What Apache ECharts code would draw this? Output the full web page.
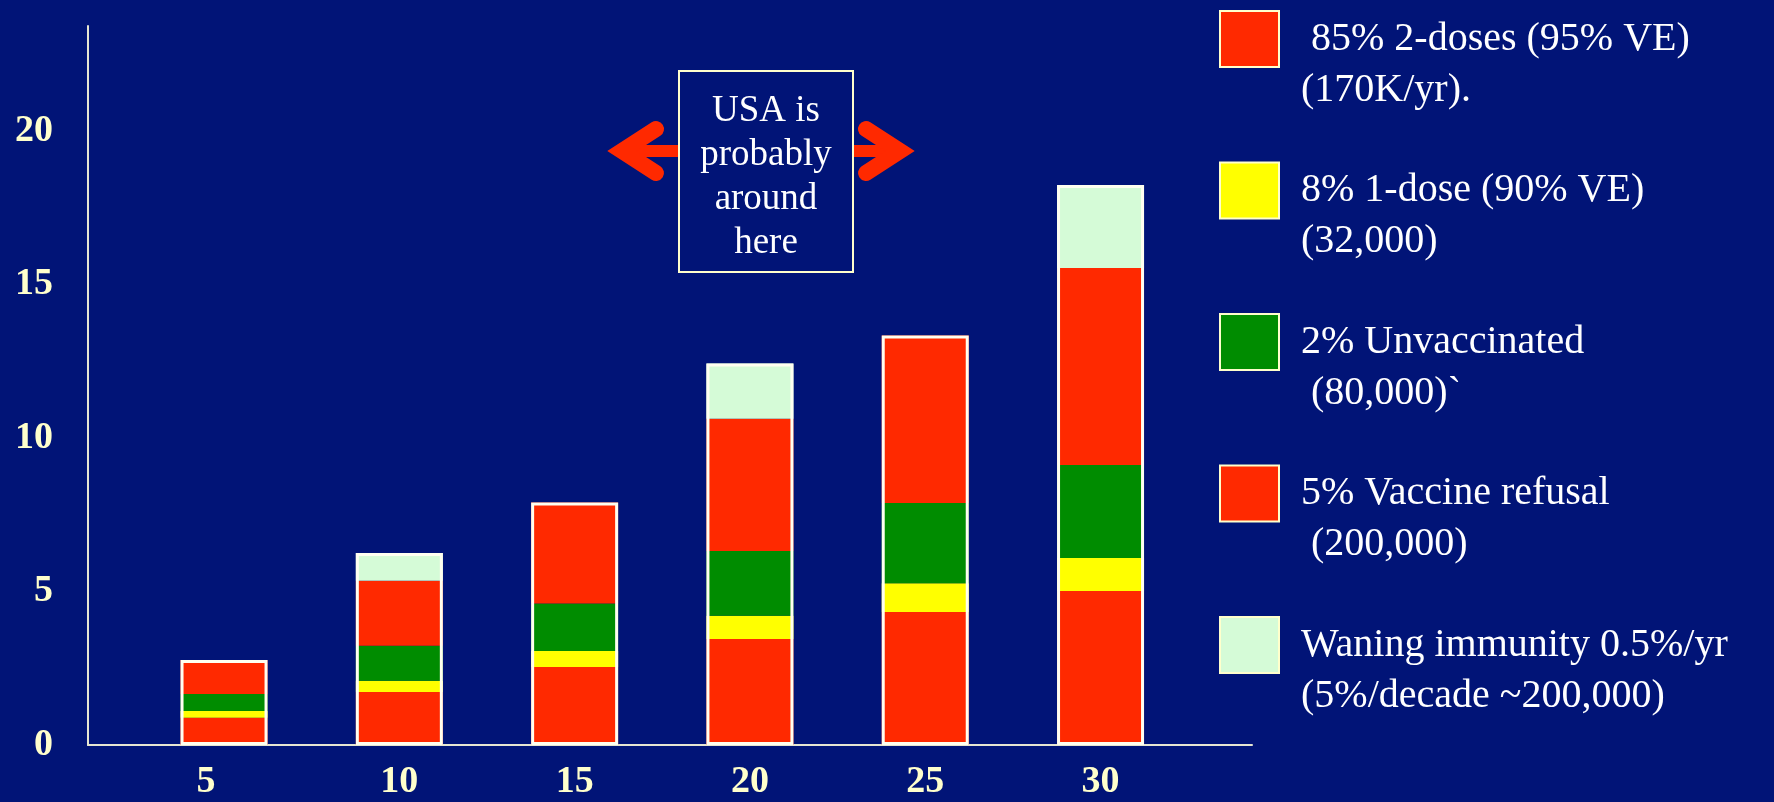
<!DOCTYPE html>
<html>
<head>
<meta charset="utf-8">
<title>Measles susceptibility build-up by year</title>
<script src="https://cdn.jsdelivr.net/npm/echarts@6/dist/echarts.min.js"></script>
<style>
  html, body { margin: 0; padding: 0; background: #011477; }
  #chart { width: 1774px; height: 802px; }
</style>
</head>
<body>
<div id="chart"></div>
<script>
// Years after programme start (x axis)
const years = [5, 10, 15, 20, 25, 30];
const yTicks = [0, 5, 10, 15, 20];

// Stacked components, bottom to top
const twoDoses     = [0.89, 1.73, 2.54, 3.45, 4.33, 5.02];
const oneDose      = [0.22, 0.36, 0.52, 0.76, 0.94, 1.07];
const unvaccinated = [0.55, 1.14, 1.55, 2.11, 2.61, 3.03];
const refusal      = [1.11, 2.12, 3.29, 4.31, 5.46, 6.42];
const waning       = [0, 0.90, 0, 1.80, 0, 2.70];

const seriesNames = [
  ' 85% 2-doses (95% VE)\n(170K/yr).',
  '8% 1-dose (90% VE)\n(32,000)',
  '2% Unvaccinated\n (80,000)`',
  '5% Vaccine refusal\n (200,000)',
  'Waning immunity 0.5%/yr\n(5%/decade ~200,000)'
];
const seriesValues = [twoDoses, oneDose, unvaccinated, refusal, waning];
const seriesColors = ['#FF2900', '#FFFF00', '#008C00', '#FF2900', '#D5FBD7'];

const NAVY = '#011477';
const CREAM = '#FFFFCC';
const SERIF = '"Liberation Serif", "Times New Roman", serif';

const totals = years.map((_, i) => seriesValues.reduce((s, arr) => s + arr[i], 0));

// Value first so the stack is accumulated on the vertical dimension
const stackSeries = seriesValues.map((vals, k) => ({
  name: seriesNames[k],
  type: 'bar',
  stack: 'total',
  barWidth: 87,
  dimensions: ['share', 'year'],
  encode: { x: 'year', y: 'share' },
  itemStyle: { color: seriesColors[k] },
  data: years.map((y, i) => [vals[i], y])
}));

// Cream frame drawn around every full stack
const frameSeries = {
  name: 'frame',
  type: 'bar',
  barWidth: 87,
  barGap: '-100%',
  dimensions: ['share', 'year'],
  encode: { x: 'year', y: 'share' },
  itemStyle: { color: 'rgba(0,0,0,0)', borderColor: '#FFFFF0', borderWidth: 3 },
  data: years.map((y, i) => [totals[i], y])
};

const chart = echarts.init(document.getElementById('chart'));
chart.setOption({
  animation: false,
  backgroundColor: NAVY,
  grid: { left: 88, right: 522, top: 26, bottom: 57, containLabel: false },
  xAxis: {
    type: 'value',
    min: 1.12,
    max: 34.32,
    splitLine: { show: false },
    axisTick: { show: false },
    axisLine: { show: true, lineStyle: { color: '#E6E6D2', width: 2 } },
    axisLabel: {
      customValues: years,
      margin: 18,
      color: CREAM,
      fontFamily: SERIF,
      fontWeight: 'bold',
      fontSize: 38,
      formatter: v => (v === 5 ? '{s|5}' : String(v)),
      rich: {
        s: { padding: [0, 36, 0, 0], color: CREAM, fontFamily: SERIF, fontWeight: 'bold', fontSize: 38 }
      }
    }
  },
  yAxis: {
    type: 'value',
    min: 0,
    max: 23.42,
    splitLine: { show: false },
    axisTick: { show: false },
    axisLine: { show: true, lineStyle: { color: '#E6E6D2', width: 2 } },
    axisLabel: {
      customValues: yTicks,
      margin: 35,
      color: CREAM,
      fontFamily: SERIF,
      fontWeight: 'bold',
      fontSize: 38
    }
  },
  legend: {
    data: seriesNames,
    orient: 'vertical',
    left: 1219,
    top: -37.5,
    padding: 0,
    itemWidth: 59,
    itemHeight: 56,
    itemGap: -1.5,
    icon: 'rect',
    selectedMode: false,
    // blank first line puts the label's first line level with its swatch
    formatter: name => '\n' + name,
    itemStyle: { borderColor: CREAM, borderWidth: 2 },
    textStyle: {
      color: '#FFFFFF',
      fontFamily: SERIF,
      fontSize: 40,
      lineHeight: 51,
      padding: [0, 0, 0, 17]
    }
  },
  series: stackSeries.concat([frameSeries]),
  graphic: [
    // Callout box with double arrow
    { type: 'line', shape: { x1: 622, y1: 151, x2: 680, y2: 151 },
      style: { stroke: '#FF2900', lineWidth: 12 } },
    { type: 'polyline', shape: { points: [[656, 129], [622, 151], [656, 173]] },
      style: { stroke: '#FF2900', lineWidth: 16, lineCap: 'round', lineJoin: 'miter', fill: null } },
    { type: 'line', shape: { x1: 852, y1: 151, x2: 902, y2: 151 },
      style: { stroke: '#FF2900', lineWidth: 12 } },
    { type: 'polyline', shape: { points: [[866, 129], [900, 151], [866, 173]] },
      style: { stroke: '#FF2900', lineWidth: 16, lineCap: 'round', lineJoin: 'miter', fill: null } },
    { type: 'rect', shape: { x: 679, y: 71, width: 174, height: 201 },
      style: { fill: NAVY, stroke: CREAM, lineWidth: 2 } },
    { type: 'text', x: 766, y: 177,
      style: {
        text: 'USA is\nprobably\naround\nhere',
        fill: '#FFFFFF',
        fontFamily: SERIF,
        fontSize: 37,
        lineHeight: 44,
        align: 'center',
        verticalAlign: 'middle'
      } }
  ]
});
</script>
</body>
</html>
